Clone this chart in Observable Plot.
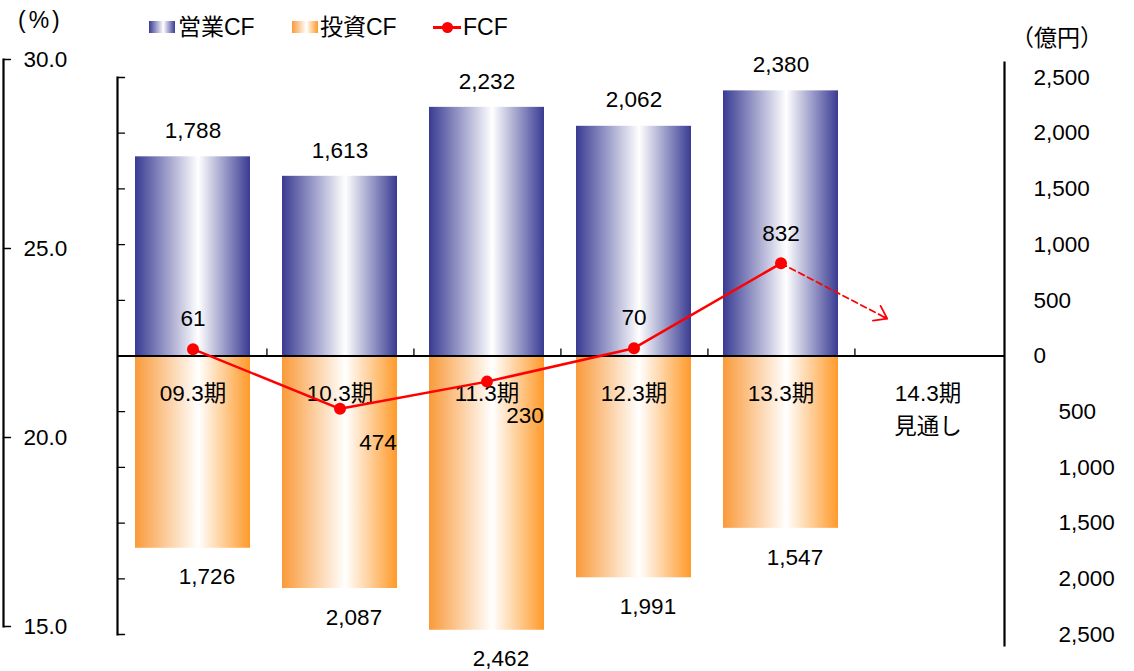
<!DOCTYPE html>
<html><head><meta charset="utf-8">
<script src="https://cdn.jsdelivr.net/npm/d3@7"></script>
<script src="https://cdn.jsdelivr.net/npm/@observablehq/plot@0.6"></script>
<style>
body{margin:0;background:#fff;font-family:'Liberation Sans','Noto Sans CJK JP',sans-serif;}
#wrap{position:relative;width:1134px;height:671px;overflow:hidden;background:#fff}
#wrap svg{position:absolute;left:0;top:0}
.lg{position:absolute;font-size:23px;line-height:23px;color:#000;white-space:nowrap}
.sw{position:absolute;width:26px;height:12px}
</style></head><body><div id="wrap">
<div class="lg" style="left:18px;top:9px;letter-spacing:3px">(%)</div>
<div class="sw" style="left:149px;top:21px;background:linear-gradient(to right,#393b93,#ffffff 55%,#393b93)"></div>
<div class="lg" style="left:178px;top:16px">営業CF</div>
<div class="sw" style="left:292px;top:21px;background:linear-gradient(to right,#f99a3a,#ffffff 55%,#ff9a2a)"></div>
<div class="lg" style="left:320px;top:16px">投資CF</div>
<div style="position:absolute;left:433px;top:26px;width:28px;height:2.5px;background:#ff0000"></div>
<div style="position:absolute;left:442px;top:22px;width:11px;height:11px;border-radius:50%;background:#ff0000"></div>
<div class="lg" style="left:463px;top:16px">FCF</div>
<div class="lg" style="left:1007px;top:27px;width:100px;text-align:center">（億円）</div>
</div>
<script>
const categories = ["09.3期","10.3期","11.3期","12.3期","13.3期","14.3期"];
const periodNotes = {"14.3期":"見通し"};
const opCF  = [1788, 1613, 2232, 2062, 2380];
const invCF = [-1726, -2087, -2462, -1991, -1547];
const fcf   = [61, -474, -230, 70, 832];
const fcfOutlook = [{from:"13.3期", fromValue:832, to:"14.3期", toValue:144}];
const yTicks = [-2500,-2000,-1500,-1000,-500,0,500,1000,1500,2000,2500];
const pctTicks = [15, 20, 25, 30];

const opData  = opCF.map((v,i)=>({period:categories[i], value:v}));
const invData = invCF.map((v,i)=>({period:categories[i], value:v}));
const fcfData = fcf.map((v,i)=>({period:categories[i], value:v}));

const W=1134, H=671, mL=117, mR=130, mT=77, mB=37;
const pi=0.215, po=0.1075;
const step=(W-mL-mR)/(categories.length - pi + 2*po);
const fmt=d3.format(",");
const red="#ff0000";
const font="'Liberation Sans','Noto Sans CJK JP',sans-serif";
const fs=22.5;
const tickShape={draw(context,l){context.moveTo(0,0);context.lineTo(0,-l);}};

const main = Plot.plot({
  width:W, height:H, marginLeft:mL, marginRight:mR, marginTop:mT, marginBottom:mB,
  style:{fontFamily:font, fontSize:fs+"px", background:"transparent", color:"#000"},
  x:{type:"band", domain:categories, paddingInner:pi, paddingOuter:po, axis:null},
  y:{domain:[-2500,2500], axis:null},
  marks:[
    Plot.barY(opData,{x:"period", y:"value", fill:"url(#gBlue)"}),
    Plot.barY(invData,{x:"period", y:"value", fill:"url(#gOrange)"}),
    Plot.ruleY([0],{stroke:"#000", strokeWidth:2}),
    Plot.ruleX(categories.slice(0,-1),{x:d=>d, y1:()=>0, y2:()=>0, insetTop:-7, dx:step/2, stroke:"#000", strokeWidth:1.3}),
    Plot.frame({anchor:"left", stroke:"#000", strokeWidth:2.2}),
    Plot.frame({anchor:"right", stroke:"#000", strokeWidth:2.2, insetTop:-15, insetBottom:-11}),
    Plot.vector(yTicks,{y:d=>d, frameAnchor:"left", length:7, rotate:90, anchor:"start", shape:tickShape, stroke:"#000", fill:"none", strokeWidth:1.3}),
    Plot.text(yTicks.filter(d=>d>=0),{y:d=>d, frameAnchor:"right", dx:29, textAnchor:"start", text:d=>fmt(Math.abs(d)), fontSize:fs}),
    Plot.text(yTicks.filter(d=>d<0),{y:d=>d, frameAnchor:"right", dx:54, textAnchor:"start", text:d=>fmt(Math.abs(d)), fontSize:fs}),
    Plot.text(categories,{x:d=>d, y:()=>0, dy:22, lineAnchor:"top", lineHeight:1.45, text:d=>d+(periodNotes[d]?"\n"+periodNotes[d]:""), fontSize:fs}),
    Plot.line(fcfData,{x:"period", y:"value", stroke:red, strokeWidth:2.5}),
    Plot.arrow(fcfOutlook,{x1:"from", y1:"fromValue", x2:"to", y2:"toValue", stroke:red, strokeWidth:1.8, strokeDasharray:"6,4", headLength:0, insetEnd:46}),
    Plot.arrow(fcfOutlook,{x1:"from", y1:"fromValue", x2:"to", y2:"toValue", stroke:red, strokeWidth:1.8, headLength:12, headAngle:70, insetStart:116, insetEnd:46}),
    Plot.dot(fcfData,{x:"period", y:"value", r:6, fill:red}),
    Plot.text(opData,{x:"period", y:"value", text:d=>fmt(d.value), dy:-26, fontSize:fs}),
    Plot.text(invData,{x:"period", y:"value", text:d=>fmt(Math.abs(d.value)), dy:29, dx:14, fontSize:fs}),
    Plot.text(fcfData.filter(d=>d.value>=0),{x:"period", y:"value", text:d=>fmt(d.value), dy:-30, fontSize:fs}),
    Plot.text(fcfData.filter(d=>d.value<0),{x:"period", y:"value", text:d=>fmt(Math.abs(d.value)), dy:34, dx:38, fontSize:fs})
  ]
});
const defs = d3.select(main).insert("defs",":first-child");
function grad(id, c0, c1){
  const g = defs.append("linearGradient").attr("id",id).attr("x1",0).attr("x2",1).attr("y1",0).attr("y2",0);
  g.append("stop").attr("offset","0").attr("stop-color",c0);
  g.append("stop").attr("offset","0.55").attr("stop-color","#ffffff");
  g.append("stop").attr("offset","1").attr("stop-color",c1);
}
grad("gBlue","#393b93","#393b93");
grad("gOrange","#f99a3a","#ff9a2a");

const pct = Plot.plot({
  width:W, height:H, marginLeft:3, marginRight:20, marginTop:59, marginBottom:45,
  style:{fontFamily:font, fontSize:fs+"px", background:"transparent", color:"#000"},
  y:{domain:[15,30], axis:null},
  marks:[
    Plot.frame({anchor:"left", stroke:"#000", strokeWidth:2.2}),
    Plot.vector(pctTicks,{y:d=>d, frameAnchor:"left", length:7, rotate:90, anchor:"start", shape:tickShape, stroke:"#000", fill:"none", strokeWidth:1.3}),
    Plot.text(pctTicks,{y:d=>d, frameAnchor:"left", dx:20, textAnchor:"start", text:d=>d.toFixed(1), fontSize:fs})
  ]
});
const wrap=document.getElementById("wrap");
wrap.appendChild(main);
wrap.appendChild(pct);
</script></body></html>
